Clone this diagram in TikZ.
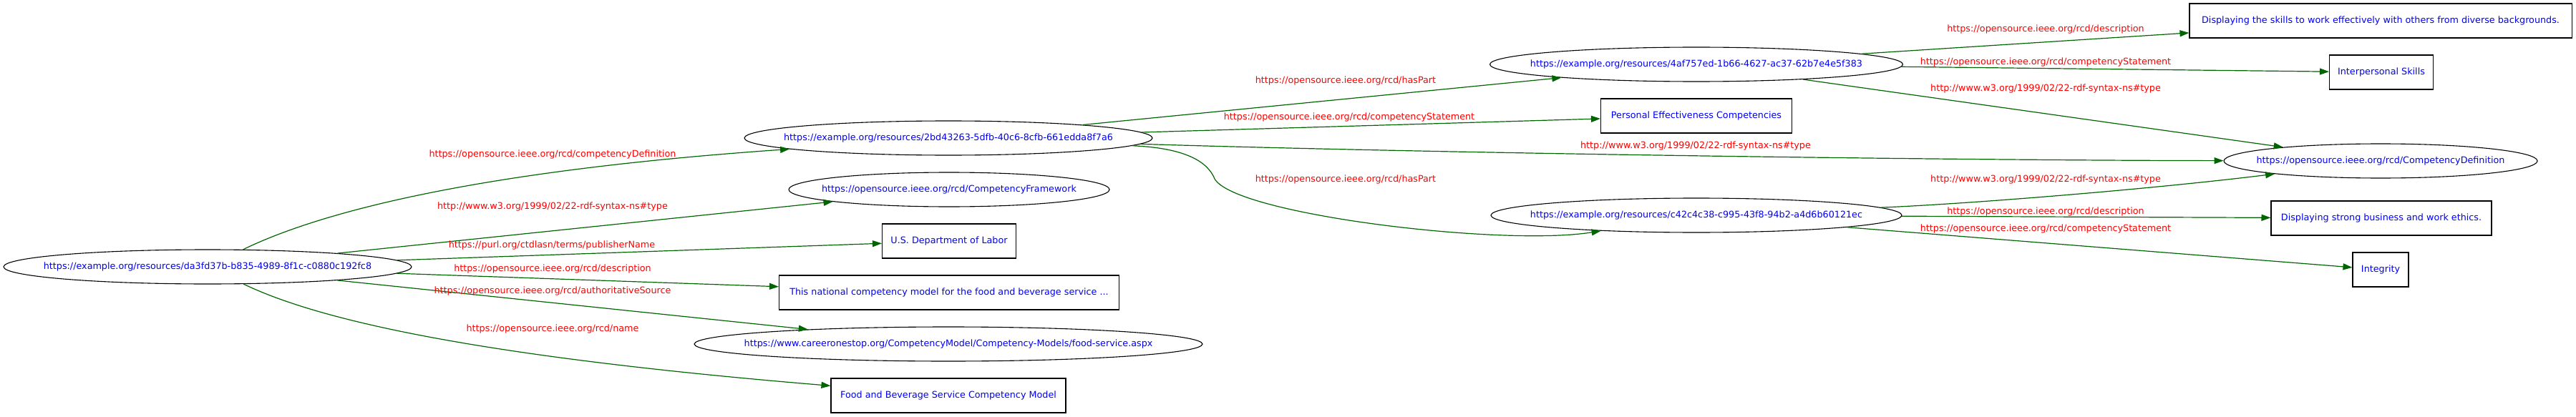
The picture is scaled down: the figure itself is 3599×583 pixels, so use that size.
\documentclass[tikz,border=0pt]{standalone}
\usepackage{fontspec}
\setmainfont{DejaVu Sans}
\usetikzlibrary{arrows.meta,shapes.geometric}
\definecolor{nodeblue}{HTML}{0000FF}
\definecolor{labred}{HTML}{FF0000}
\definecolor{edgegreen}{HTML}{006400}
\begin{document}
\begin{tikzpicture}[x=1pt,y=-1pt,
  txt/.style={font=\fontsize{12.75}{15}\selectfont},
  res/.style={ellipse, draw=black, line width=1.1pt, inner sep=0pt, minimum height=48pt,
    label={[txt, text=nodeblue, inner sep=0pt]center:#1}},
  lit/.style={txt, rectangle, draw=black, line width=1.1pt, inner sep=0pt, minimum height=48pt, text=nodeblue},
  lab/.style={txt, text=labred, inner sep=0pt},
  edge/.style={draw=edgegreen, line width=1.2pt, -{Triangle[length=13pt,width=9pt]}}
]
\useasboundingbox (0,0) rectangle (3599,583);
% nodes
\node[res={https://example.org/resources/da3fd37b-b835-4989-8f1c-c0880c192fc8}, minimum width=570pt] (n0) at (290,373) {};
\node[res={https://example.org/resources/2bd43263-5dfb-40c6-8cfb-661edda8f7a6}, minimum width=570pt] (n1) at (1325,193) {};
\node[res={https://opensource.ieee.org/rcd/CompetencyFramework}, minimum width=448pt] (cf) at (1326,265) {};
\node[lit, minimum width=187pt] (dol) at (1326,337) {U.S. Department of Labor};
\node[lit, minimum width=475pt] (desc0) at (1326,409) {This national competency model for the food and beverage service ...};
\node[res={https://www.careeronestop.org/CompetencyModel/Competency-Models/food-service.aspx}, minimum width=710pt] (src) at (1325,481) {};
\node[lit, minimum width=328pt] (name0) at (1325,553) {Food and Beverage Service Competency Model};
\node[res={https://example.org/resources/4af757ed-1b66-4627-ac37-62b7e4e5f383}, minimum width=577pt] (n2) at (2370,90) {};
\node[lit, minimum width=267pt] (pe) at (2370,162) {Personal Effectiveness Competencies};
\node[res={https://example.org/resources/c42c4c38-c995-43f8-94b2-a4d6b60121ec}, minimum width=574pt] (n3) at (2370,301) {};
\node[lit, minimum width=534pt] (ds) at (3326,29) {Displaying the skills to work effectively with others from diverse backgrounds.};
\node[lit, minimum width=145pt] (ips) at (3327,101) {Interpersonal Skills};
\node[res={https://opensource.ieee.org/rcd/CompetencyDefinition}, minimum width=438pt] (cd) at (3326,225) {};
\node[lit, minimum width=308pt] (dsb) at (3327,305) {Displaying strong business and work ethics.};
\node[lit, minimum width=78pt] (integ) at (3326,377) {Integrity};
% edges
\draw[edge] (n0) .. controls (440,300) and (650,240) .. (n1);
\draw[edge] (n0) -- (cf);
\draw[edge] (n0) -- (dol);
\draw[edge] (n0) -- (desc0);
\draw[edge] (n0) -- (src);
\draw[edge] (n0) .. controls (440,445) and (650,497) .. (name0);
\draw[edge] (n1) -- (n2);
\draw[edge] (n1) -- (pe);
\draw[edge] (n1) .. controls (2000,214) and (2700,224) .. (cd);
\draw[edge] (n1) .. controls (1660,207) and (1688,228) .. (1697,250) .. controls (1725,300) and (2100,345) .. (n3);
\draw[edge] (n2) -- (ds);
\draw[edge] (n2) -- (ips);
\draw[edge] (n2) -- (cd);
\draw[edge] (n3) .. controls (2750,285) and (3000,265) .. (cd);
\draw[edge] (n3) -- (dsb);
\draw[edge] (n3) -- (integ);
% labels
\node[lab] (l1) at (772,216) {https://opensource.ieee.org/rcd/competencyDefinition};
\node[lab] (l2) at (772,289) {http://www.w3.org/1999/02/22-rdf-syntax-ns\#type};
\node[lab] (l3) at (771,343) {https://purl.org/ctdlasn/terms/publisherName};
\node[lab] (l4) at (772,376) {https://opensource.ieee.org/rcd/description};
\node[lab] (l5) at (772,407) {https://opensource.ieee.org/rcd/authoritativeSource};
\node[lab] (l6) at (772,460) {https://opensource.ieee.org/rcd/name};
\node[lab] (l7) at (1880,113) {https://opensource.ieee.org/rcd/hasPart};
\node[lab] (l8) at (1885,164) {https://opensource.ieee.org/rcd/competencyStatement};
\node[lab] (l9) at (2369,204) {http://www.w3.org/1999/02/22-rdf-syntax-ns\#type};
\node[lab] (l10) at (1880,251) {https://opensource.ieee.org/rcd/hasPart};
\node[lab] (l11) at (2858,41) {https://opensource.ieee.org/rcd/description};
\node[lab] (l12) at (2858,87) {https://opensource.ieee.org/rcd/competencyStatement};
\node[lab] (l13) at (2858,124) {http://www.w3.org/1999/02/22-rdf-syntax-ns\#type};
\node[lab] (l14) at (2858,251) {http://www.w3.org/1999/02/22-rdf-syntax-ns\#type};
\node[lab] (l15) at (2858,296) {https://opensource.ieee.org/rcd/description};
\node[lab] (l16) at (2858,320) {https://opensource.ieee.org/rcd/competencyStatement};
\end{tikzpicture}
\end{document}
